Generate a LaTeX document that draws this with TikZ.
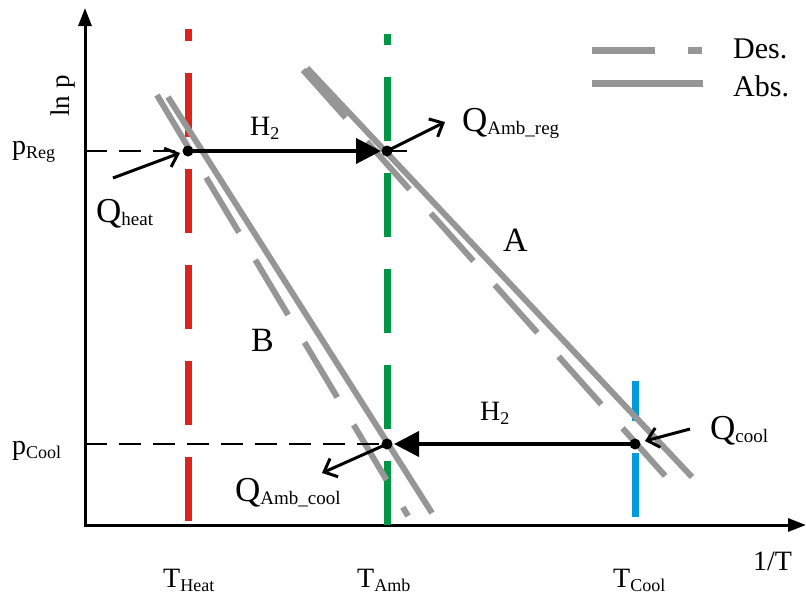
\documentclass[tikz,border=0pt]{standalone}
\usepackage{fontspec}
\setmainfont{Liberation Serif}
\usetikzlibrary{arrows.meta}
\definecolor{cred}{RGB}{220,35,30}
\definecolor{cgreen}{RGB}{0,150,70}
\definecolor{cblue}{RGB}{0,155,220}
\definecolor{cgray}{RGB}{150,150,150}
\newcommand{\sbx}[1]{\raisebox{-4pt}{\fontsize{18}{18}\selectfont #1}}
\newcommand{\qsub}[1]{{\fontsize{35}{35}\selectfont Q}\raisebox{-3pt}{\fontsize{19}{19}\selectfont #1}}
\begin{document}
\begin{tikzpicture}[x=1pt,y=-1pt,
  lbl/.style={inner sep=0pt, anchor=base west, font=\fontsize{28}{28}\selectfont},
  biglbl/.style={inner sep=0pt, anchor=base west, font=\fontsize{34}{34}\selectfont},
  leglbl/.style={inner sep=0pt, anchor=base west, font=\fontsize{30}{30}\selectfont},
  axisline/.style={line width=3pt, {Triangle[length=18pt,width=13pt]}-{Triangle[length=18pt,width=13pt]}},
  isoline/.style={line width=7pt},
  absline/.style={cgray, line width=6pt},
  desline/.style={cgray, line width=6pt, dash pattern=on 64pt off 32pt},
  flow/.style={line width=4pt, -{Triangle[length=25pt,width=25pt]}},
  heatflow/.style={line width=3pt, -{Straight Barb[length=11pt,width=20pt]}},
  guide/.style={line width=2.5pt, dash pattern=on 22pt off 12pt},
  dot/.style={circle, fill=black, inner sep=0pt, minimum size=11pt}
]
\useasboundingbox (0,0) rectangle (806,597);

% axes
\coordinate (yTip) at (85,8);
\coordinate (orig) at (85,525);
\coordinate (xTip) at (806,525);
\draw[axisline] (yTip) -- (orig) -- (xTip);

% isotherms
\coordinate (redB) at (188,521);  \coordinate (redT) at (188,29);
\coordinate (grnB) at (387,525);  \coordinate (grnT) at (387,34);
\coordinate (bluB) at (635,517);  \coordinate (bluT) at (635,381);
\draw[isoline, cred, dash pattern=on 64pt off 32pt] (redB) -- (redT);
\draw[isoline, cgreen, dash pattern=on 64pt off 32pt] (grnB) -- (grnT);
\draw[isoline, cblue, dash pattern=on 64pt off 32pt] (bluB) -- (bluT);

% isosteres
\coordinate (bDesT) at (157,95);  \coordinate (bDesB) at (408,516);
\coordinate (bAbsT) at (168,97);  \coordinate (bAbsB) at (432,513);
\coordinate (aDesT) at (303,70);  \coordinate (aDesB) at (667,478);
\coordinate (aAbsT) at (307,68);  \coordinate (aAbsB) at (692,477);
\draw[desline] (bDesT) -- (bDesB);
\draw[absline] (bAbsT) -- (bAbsB);
\draw[desline] (aDesT) -- (aDesB);
\draw[absline] (aAbsT) -- (aAbsB);

% state points
\node[dot] (hreg) at (188,151) {};
\node[dot] (areg) at (387,151) {};
\node[dot] (acool) at (387,444) {};
\node[dot] (ccool) at (635,444) {};

% pressure guides
\coordinate (pRegAx) at (85,151);
\coordinate (pCoolAx) at (85,444);
\draw[guide] (pRegAx) -- (hreg.center);
\draw[guide] (pCoolAx) -- (acool.center);

% hydrogen flows
\coordinate (h2TopTip) at (381,151);
\coordinate (h2BotTip) at (394,444);
\coordinate (stub) at (407,151);
\draw[flow] (hreg.center) -- (h2TopTip);
\draw[line width=2pt] (areg.center) -- (stub);
\draw[flow] (ccool.center) -- (h2BotTip);

% heat flows
\coordinate (qHeatS) at (113,178);  \coordinate (qHeatE) at (180,153);
\coordinate (qRegE) at (445,122);
\coordinate (qAcE) at (322,473);
\coordinate (qCoolS) at (690,429);  \coordinate (qCoolE) at (645,441);
\draw[heatflow] (qHeatS) -- (qHeatE);
\draw[heatflow] (areg.center) -- (qRegE);
\draw[heatflow] (acool.center) -- (qAcE);
\draw[heatflow] (qCoolS) -- (qCoolE);

% labels
\node[inner sep=0pt, rotate=90, font=\fontsize{27}{27}\selectfont] (lnp) at (63,96) {ln p};
\node[lbl] (pReg) at (12,154) {p\sbx{Reg}};
\node[lbl] (pCool) at (12,454) {p\sbx{Cool}};
\node[lbl] (qHeat) at (96,222) {\qsub{heat}};
\node[lbl] (h2Top) at (250,135) {H\sbx{2}};
\node[lbl] (h2Bot) at (480,420) {H\sbx{2}};
\node[lbl] (qReg) at (462,131) {\qsub{Amb\_reg}};
\node[lbl] (qAc) at (235,501) {\qsub{Amb\_cool}};
\node[lbl] (qCool) at (710,439) {\qsub{cool}};
\node[biglbl] (lA) at (503,251) {A};
\node[biglbl] (lB) at (251,351) {B};
\node[lbl] (tHeat) at (163,587) {T\sbx{Heat}};
\node[lbl] (tAmb) at (357,587) {T\sbx{Amb}};
\node[lbl] (tCool) at (613,587) {T\sbx{Cool}};
\node[lbl] (invT) at (753,570) {1/T};

% legend
\coordinate (legDesS) at (592,50);  \coordinate (legDesE) at (702,50);
\coordinate (legAbsS) at (592,83);  \coordinate (legAbsE) at (703,83);
\draw[cgray, line width=7pt, dash pattern=on 63pt off 33pt] (legDesS) -- (legDesE);
\draw[cgray, line width=7pt] (legAbsS) -- (legAbsE);
\node[leglbl] (des) at (733,58) {Des.};
\node[leglbl] (abs) at (733,96) {Abs.};
\end{tikzpicture}
\end{document}
